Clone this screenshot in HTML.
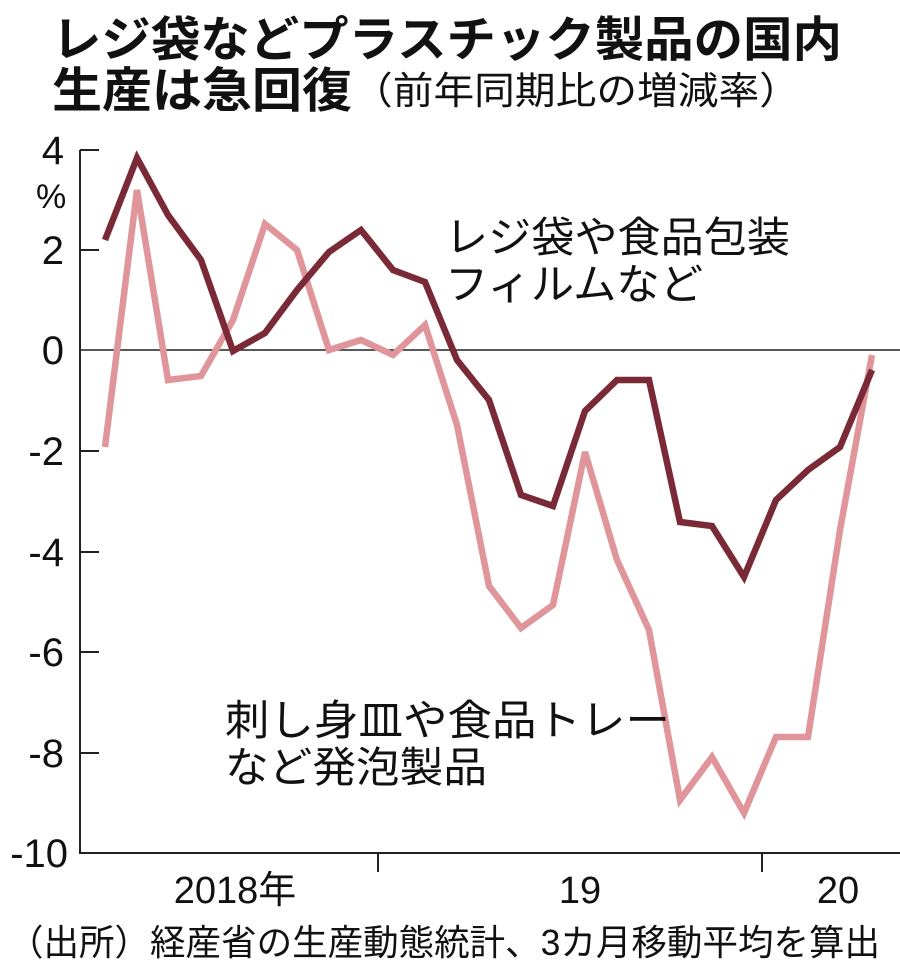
<!DOCTYPE html>
<html><head><meta charset="utf-8"><style>
body{margin:0;background:#fff;width:900px;height:970px;overflow:hidden}
svg text{font-family:"Liberation Sans","Noto Sans CJK JP",sans-serif;fill:#111}
</style></head><body>
<svg width="900" height="970" viewBox="0 0 900 970">
<text x="52" y="56" font-size="48" font-weight="bold" textLength="790" lengthAdjust="spacingAndGlyphs">レジ袋などプラスチック製品の国内</text>
<text x="52" y="107" font-size="48" font-weight="bold" textLength="300" lengthAdjust="spacingAndGlyphs">生産は急回復</text>
<text x="352" y="104" font-size="38" textLength="448" lengthAdjust="spacingAndGlyphs">（前年同期比の増減率）</text>
<g font-size="40" text-anchor="end">
<text x="64" y="164">4</text>
<text x="64" y="264">2</text>
<text x="64" y="364">0</text>
<text x="64" y="465">-2</text>
<text x="64" y="566">-4</text>
<text x="64" y="666">-6</text>
<text x="64" y="767">-8</text>
<text x="68" y="867">-10</text>
</g>
<text x="36" y="208" font-size="34">%</text>
<g stroke="#222" stroke-width="2" fill="none">
<line x1="80" y1="150" x2="80" y2="854"/>
<line x1="80" y1="853" x2="900" y2="853"/>
<line x1="80" y1="150" x2="99" y2="150"/>
<line x1="80" y1="250" x2="99" y2="250"/>
<line x1="80" y1="451" x2="99" y2="451"/>
<line x1="80" y1="552" x2="99" y2="552"/>
<line x1="80" y1="652" x2="99" y2="652"/>
<line x1="80" y1="753" x2="99" y2="753"/>
<line x1="80" y1="350" x2="900" y2="350" stroke-width="1.5"/>
<line x1="378" y1="853" x2="378" y2="872"/>
<line x1="762" y1="853" x2="762" y2="872"/>
</g>
<polyline fill="none" stroke="#e0959a" stroke-width="6.5" stroke-linejoin="miter" points="105,447 137,190 168,380 201,376 233,320 265,224 297,250 329,350 361,340 393,355 425,325 457,425 489,586 521,628 553,605 585,452 617,560 649,630 680,800 712,757 744,813 776,737 808,737 840,530 872,355"/>
<polyline fill="none" stroke="#7a2a36" stroke-width="6.5" stroke-linejoin="miter" points="105,240 137,158 168,215 201,260 233,351 265,333 297,290 329,252 361,230 393,270 425,282 457,360 489,400 521,495 553,506 585,411 617,380 649,380 680,522 712,526 744,577 776,500 808,470 840,447 872,370"/>
<g font-size="42">
<text x="445" y="252" textLength="345" lengthAdjust="spacingAndGlyphs">レジ袋や食品包装</text>
<text x="445" y="299" textLength="258" lengthAdjust="spacingAndGlyphs">フィルムなど</text>
<text x="225" y="735" textLength="445" lengthAdjust="spacingAndGlyphs">刺し身皿や食品トレー</text>
<text x="225" y="782" textLength="262" lengthAdjust="spacingAndGlyphs">など発泡製品</text>
</g>
<g font-size="38" text-anchor="middle">
<text x="235" y="903">2018年</text>
<text x="580" y="903">19</text>
<text x="838" y="903">20</text>
</g>
<text x="8" y="955" font-size="36" textLength="872" lengthAdjust="spacingAndGlyphs">（出所）経産省の生産動態統計、3カ月移動平均を算出</text>
</svg>
</body></html>
